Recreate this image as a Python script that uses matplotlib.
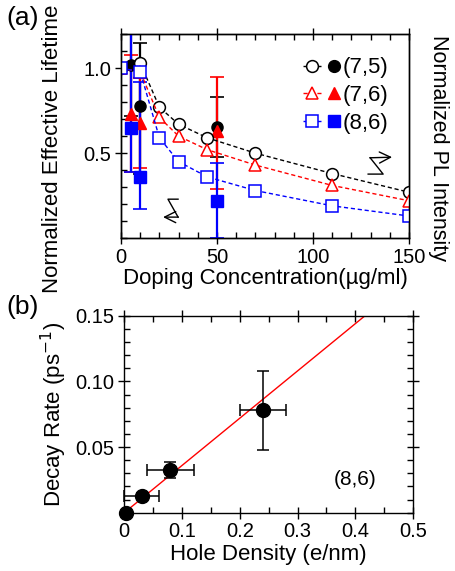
import matplotlib
matplotlib.use('Agg')
import matplotlib.pyplot as plt
from matplotlib.legend_handler import HandlerTuple
from matplotlib.ticker import MultipleLocator

plt.rcParams['font.family'] = ['Liberation Sans', 'DejaVu Sans']
plt.rcParams['axes.linewidth'] = 1.0

# (a) doping dependence: open = PL intensity, filled = effective lifetime
dop_open = [0, 10, 20, 30, 45, 70, 110, 150]
pl_75 = [1.0, 1.03, 0.77, 0.67, 0.59, 0.50, 0.38, 0.27]
pl_76 = [1.0, 0.98, 0.71, 0.60, 0.52, 0.43, 0.31, 0.22]
pl_86 = [1.0, 0.98, 0.59, 0.45, 0.36, 0.28, 0.19, 0.13]

dop_fill = [5, 10, 50]
lt_75 = [1.02, 0.78, 0.655]
lt_75_lo = [0.30, 0.40, 0.175]
lt_75_hi = [0.30, 0.37, 0.175]
lt_76 = [0.73, 0.68, 0.63]
lt_76_lo = [0.34, 0.27, 0.34]
lt_76_hi = [0.35, 0.26, 0.32]
lt_86 = [0.65, 0.36, 0.22]
lt_86_lo = [0.26, 0.19, 0.22]
lt_86_hi = [0.60, 0.56, 0.22]

labels = ['(7,5)', '(7,6)', '(8,6)']
colors = ['black', 'red', 'blue']
markers = ['o', '^', 's']

# (b) decay rate vs hole density, (8,6)
hole = [0.003, 0.030, 0.080, 0.240]
hole_err = [0.0, 0.030, 0.040, 0.040]
rate = [0.0, 0.0127, 0.0325, 0.078]
rate_err = [0.0, 0.002, 0.006, 0.030]
fit_x = [0.0, 0.5]
fit_slope = 0.36

fig = plt.figure(figsize=(4.55, 5.71), dpi=100)
ax1 = fig.add_axes([0.266, 0.583, 0.633, 0.357])
ax2 = fig.add_axes([0.273, 0.102, 0.635, 0.345])


def style_ticks(ax):
    ax.tick_params(which='major', direction='inout', length=8, width=1,
                   top=True, right=True, labelsize=14.5, pad=3)
    ax.tick_params(which='minor', direction='in', length=4.5, width=1,
                   top=True, right=True)


pl_sets = [pl_75, pl_76, pl_86]
lt_sets = [(lt_75, lt_75_lo, lt_75_hi), (lt_76, lt_76_lo, lt_76_hi),
           (lt_86, lt_86_lo, lt_86_hi)]
handles = []
for pl, (lt, lo, hi), c, m, lab in zip(pl_sets, lt_sets, colors, markers, labels):
    ax1.errorbar(dop_fill, lt, yerr=[lo, hi], fmt=m, color=c, ms=8,
                 elinewidth=1.6, capsize=5, capthick=1.2, zorder=3)
    op, = ax1.plot(dop_open, pl, ls=(0, (3, 2)), lw=1, marker=m, ms=8.5,
                   mfc='white', mec=c, mew=1.1, color=c, zorder=4)
    fi, = ax1.plot([], [], ls='none', marker=m, ms=8.5, color=c)
    handles.append((op, fi))

ax1.set_xlim(0, 150)
ax1.set_ylim(0, 1.2)
ax1.xaxis.set_major_locator(MultipleLocator(50))
ax1.xaxis.set_minor_locator(MultipleLocator(10))
ax1.yaxis.set_minor_locator(MultipleLocator(0.1))
ax1.set_yticks([0.5, 1.0])
ax1.set_yticklabels(['0.5', '1.0'])
style_ticks(ax1)
ax1.set_xlabel('Doping Concentration(µg/ml)', fontsize=16, labelpad=1)
ax1.set_ylabel('Normalized Effective Lifetime', fontsize=16)
ax1.yaxis.set_label_coords(-0.2, 0.44)
ax_r = ax1.twinx()
ax_r.set_ylim(0, 1.2)
ax_r.yaxis.set_major_locator(MultipleLocator(0.5))
ax_r.yaxis.set_minor_locator(MultipleLocator(0.1))
ax_r.tick_params(which='both', right=False, labelright=False)
ax_r.set_ylabel('Normalized PL Intensity', fontsize=15.5, rotation=-90)
ax_r.yaxis.set_label_coords(1.14, 0.44)

ax1.legend(handles, labels, handler_map={tuple: HandlerTuple(ndivide=None, pad=0.2)},
           loc='upper left', bbox_to_anchor=(0.60, 0.93), frameon=False,
           fontsize=16, handlelength=1.8, handletextpad=0.0, labelspacing=0.3,
           borderaxespad=0.0)

# zigzag arrows pointing to the relevant axis
ax1.plot([0.198, 0.163, 0.198], [0.191, 0.191, 0.103], color='black', lw=1,
         transform=ax1.transAxes)
ax1.annotate('', xy=(0.146, 0.103), xytext=(0.199, 0.103), xycoords='axes fraction',
             arrowprops=dict(arrowstyle='->', lw=1, color='black', shrinkA=0, shrinkB=0,
                             mutation_scale=20))
ax1.plot([0.858, 0.910, 0.865], [0.314, 0.314, 0.394], color='black', lw=1,
         transform=ax1.transAxes)
ax1.annotate('', xy=(0.941, 0.397), xytext=(0.864, 0.394), xycoords='axes fraction',
             arrowprops=dict(arrowstyle='->', lw=1, color='black', shrinkA=0, shrinkB=0,
                             mutation_scale=20))

fig.text(0.015, 0.968, '(a)', fontsize=19, va='center')
fig.text(0.015, 0.462, '(b)', fontsize=19, va='center')

# panel (b)
ax2.plot(fit_x, [fit_slope * v for v in fit_x], color='red', lw=1, zorder=2)
ax2.errorbar(hole, rate, xerr=hole_err, yerr=rate_err, fmt='o', color='black',
             ms=10, elinewidth=1.1, capsize=4.5, capthick=1.1, zorder=3, clip_on=False)
ax2.set_xlim(0, 0.5)
ax2.set_ylim(0, 0.15)
ax2.xaxis.set_minor_locator(MultipleLocator(0.05))
ax2.yaxis.set_minor_locator(MultipleLocator(0.01))
ax2.set_yticks([0.05, 0.10, 0.15])
ax2.set_yticklabels(['0.05', '0.10', '0.15'])
ax2.set_xticks([0, 0.1, 0.2, 0.3, 0.4, 0.5])
ax2.set_xticklabels(['0', '0.1', '0.2', '0.3', '0.4', '0.5'])
style_ticks(ax2)
ax2.set_xlabel('Hole Density (e/nm)', fontsize=16, labelpad=2)
ax2.set_ylabel('Decay Rate (ps$^{-1}$)', fontsize=16, labelpad=5)
ax2.text(0.80, 0.17, '(8,6)', fontsize=15, ha='center', va='center',
         transform=ax2.transAxes)

fig.savefig('out.png', dpi=100)
